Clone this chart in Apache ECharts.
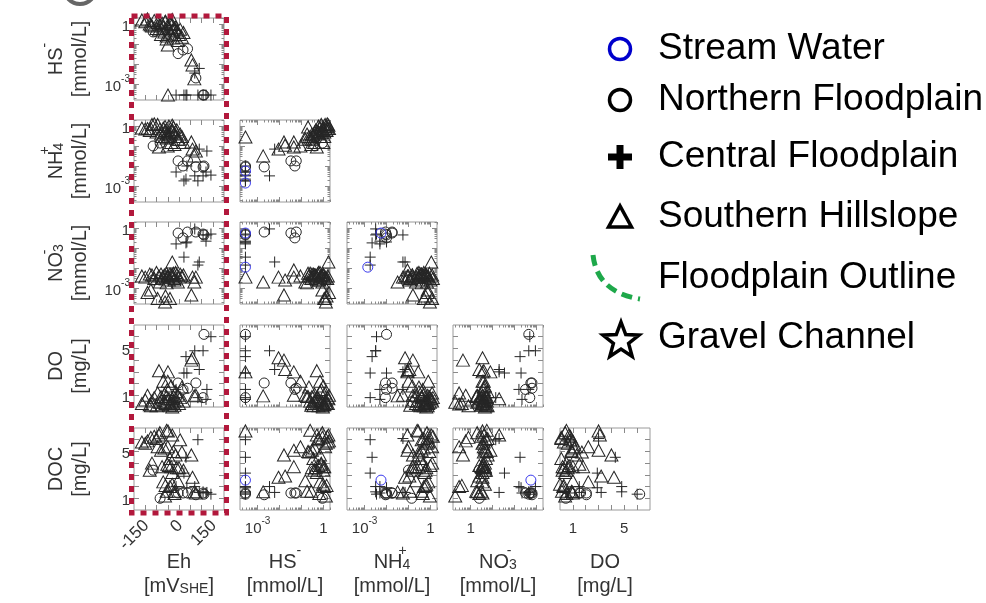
<!DOCTYPE html>
<html><head><meta charset="utf-8">
<script src="https://cdn.jsdelivr.net/npm/echarts@6/dist/echarts.min.js"></script>
<style>html,body{margin:0;padding:0;background:#fff}#c{width:986px;height:603px}</style>
</head><body><div id="c"></div>
<script>
// Each row: [Eh (mV_SHE), HS- (mmol/L), NH4+ (mmol/L), NO3- (mmol/L), DO (mg/L), DOC (mg/L)]
const streamWater = [
  [null, 0.00028, 0.0056, 0.56, null, 2.55],
  [null, 0.00028, 0.0014, 0.011, null, null]
];
const northernFloodplain = [
  [-115, 0.4, 0.1, 0.0025, null, 3.4],
  [-84, 0.9, 0.14, 0.0025, 0.45, 1.0],
  [-4, 0.033, 0.018, 0.56, 2.05, 1.45],
  [18, 0.05, 0.01, 0.32, 1.5, 1.45],
  [38, 0.058, 0.018, 0.63, 1.6, 1.45],
  [111, 0.00028, 0.01, 0.45, 6.2, 1.35],
  [75, 0.002, 0.009, 0.63, 2.05, 1.3],
  [107, 0.00028, 0.0089, 0.5, 0.8, 1.45]
];
const centralFloodplain = [
  [142, 0.00028, 0.0035, 0.5, 6.0, 1.35],
  [107, 0.00028, 0.0032, 0.45, 4.8, 1.55],
  [31, 0.00028, 0.0022, 0.18, 4.3, 4.5],
  [22, 0.00028, 0.0018, 0.035, 2.9, 3.15],
  [-13, 0.00028, 0.005, 0.16, 1.5, 2.0],
  [84, 0.00028, 0.0018, 0.014, 0.8, 6.0],
  [90, 0.006, 0.07, 0.02, 3.2, 1.5],
  [70, 0.0035, 0.0032, 0.9, 4.8, 2.0],
  [124, null, 0.056, 0.45, 1.5, 1.5],
  [35, 0.00028, 0.01, 0.2, 2.9, 1.9],
  [120, 0.00028, 0.005, 0.22, 0.65, 1.45],
  [null, null, 0.056, 0.02, 3.0, 6.1]
];
const southernHillslope = [
  [-49, 0.00028, 0.28, 0.0035, 3.0, 6.75],
  [68, 0.0018, 0.032, 0.002, 0.95, 1.55],
  [60, 0.009, 0.07, 0.0035, 4.2, 2.8],
  [55, 0.016, 0.16, 0.00045, 4.0, 4.7],
  [null, 0.018, 0.11, 0.0025, 3.2, 2.9],
  [null, 0.045, 0.09, 0.008, 3.0, 5.1],
  [null, 0.045, 0.16, 0.0035, 1.0, 3.7],
  [-50, 0.09, 0.1, 0.004, 2.2, 5.4],
  [-165, 1.6, 0.8, 0.004, 0.3, 5.8],
  [-150, 1.3, 0.7, 0.0035, 0.6, 5.7],
  [-140, 1.8, 0.75, 0.0006, 1.0, 5.9],
  [-130, 1.0, 0.6, 0.005, 0.2, 3.4],
  [-120, 0.8, 1.2, 0.0045, 0.5, 4.0],
  [-110, 1.5, 1.3, 0.003, 0.8, 6.3],
  [-100, 0.6, 0.5, 0.006, 0.1, 6.1],
  [-95, 1.2, 1.2, 0.0003, 1.2, 5.4],
  [-89, 0.5, 0.09, 0.004, 3.1, 6.4],
  [-85, 0.9, 0.7, 0.002, 0.4, 6.6],
  [-80, 0.3, 0.4, 0.005, 0.9, 5.1],
  [-75, 1.1, 0.3, 0.0032, 0.2, 3.7],
  [-70, 0.7, 0.8, 0.0035, 2.2, 2.4],
  [-65, 0.4, 0.5, 0.0045, 1.1, 5.3],
  [-60, 1.4, 0.6, 0.0004, 0.3, 2.1],
  [-55, 0.25, 0.25, 0.0055, 0.5, 6.8],
  [-52, 0.8, 0.45, 0.004, 1.5, 3.9],
  [-45, 0.6, 1.0, 0.0025, 0.7, 3.8],
  [-40, 0.35, 0.35, 0.005, 0.1, 4.4],
  [-35, 1.0, 0.15, 0.0045, 1.8, 3.7],
  [-30, 0.5, 0.55, 0.0035, 0.4, 3.2],
  [-25, 0.2, 0.9, 0.0055, 0.9, 5.0],
  [-20, 0.28, 0.12, 0.003, 0.15, 1.6],
  [-15, 0.7, 0.3, 0.006, 1.3, 4.7],
  [-10, 0.45, 0.65, 0.0045, 0.6, 3.6],
  [-5, 0.15, 0.22, 0.002, 1.0, 2.5],
  [0, 0.3, 0.22, 0.0035, 0.3, 3.6],
  [5, 0.55, 0.4, 0.005, 0.8, 6.0],
  [13, 0.22, 0.3, 0.004, 1.7, 4.95],
  [20, 0.38, 0.15, 0.0045, 0.5, 3.4],
  [-125, 0.9, 0.75, 0.0008, 0.1, 6.2],
  [-40, 1.1, 0.5, 0.0003, 0.25, 2.0],
  [-62, 1.3, 0.95, 0.0002, 0.4, 1.2],
  [-30, 1.7, 1.1, 0.02, 0.7, 6.4],
  [-30, 0.95, 0.65, 0.0045, 0.0, 2.2],
  [-20, 0.65, 0.45, 0.0025, 0.5, 1.4],
  [-55, 0.18, 0.4, 0.0018, 0.9, 1.6],
  [75, null, 0.056, 0.0035, 1.0, 1.45]
];
const legendLabels = ['Stream Water', 'Northern Floodplain', 'Central Floodplain', 'Southern Hillslope', 'Floodplain Outline', 'Gravel Channel'];
const fieldNames = [
  '{m|Eh}{h| }\n{m|[mV}{sub|SHE}{m|]}',
  '{m|HS}{sp|-}{h| }\n{m|[mmol/L]}',
  '{m|NH}{z|+}{sub|4}{h| }\n{m|[mmol/L]}',
  '{m|NO}{z|-}{sub|3}{h| }\n{m|[mmol/L]}',
  '{m|DO}{h| }\n{m|[mg/L]}',
  '{m|DOC}{h| }\n{m|[mg/L]}'
];
const ehTickLabels = [-150, 0, 150];
const ehTicks = [-150, -100, -50, 0, 50, 100, 150];
const logTickLabels = [0.001, 1];
const logMajorTicks = [0.001, 0.01, 0.1, 1];
const logDecades = [0.0001, 0.001, 0.01, 0.1, 1];
const linTickLabels = [1, 5];
const linTicks = [1, 2, 3, 4, 5, 6];

const FF = '"Liberation Sans", Arial, sans-serif';
const TXT = '#333';
const fieldIsLog = [false, true, true, true, false, false];
const ranges = [[-200, 200], [0.000158, 2.0], [0.000158, 2.0], [0.000158, 2.0], [0, 7], [0, 7]];
const logMinorTicks = [];
logDecades.forEach(d => { for (let k = 2; k <= 9; k++) logMinorTicks.push(+(d * k).toPrecision(3)); });
const majorTicks = [ehTicks, logMajorTicks, logMajorTicks, logMajorTicks, linTicks, linTicks];

const lefts = [134, 240, 347, 453, 560];
const tops = [18, 120, 222, 325, 428];
const PW = 90, PH = 82;

const tickRich = {
  b: {fontFamily: FF, fontSize: 15, lineHeight: 20, verticalAlign: 'bottom', color: TXT},
  e: {fontFamily: FF, fontSize: 17, lineHeight: 20, verticalAlign: 'bottom', color: TXT},
  t: {fontFamily: FF, fontSize: 10, lineHeight: 12, verticalAlign: 'top', color: TXT}
};
const nameRich = {
  m: {fontFamily: FF, fontSize: 20, lineHeight: 24, verticalAlign: 'bottom', color: TXT},
  h: {fontFamily: FF, fontSize: 20, lineHeight: 28, width: 0, color: TXT},
  sp: {fontFamily: FF, fontSize: 14, lineHeight: 26, verticalAlign: 'top', color: TXT},
  z: {fontFamily: FF, fontSize: 14, lineHeight: 14, verticalAlign: 'top', width: 0, color: TXT},
  sub: {fontFamily: FF, fontSize: 14, lineHeight: 14, verticalAlign: 'bottom', color: TXT}
};
function logFmt(v) { return v > 0.5 ? '{b|1}' : '{b|10}{t|-3}'; }
function labelCfg(field, isX) {
  const base = {show: true, rich: tickRich, fontFamily: FF, fontSize: 15, color: TXT, margin: isX ? 6 : 4, hideOverlap: false};
  if (field === 0) return Object.assign(base, {customValues: ehTickLabels, rotate: 45, margin: 12, formatter: v => '{e|' + v + '}'});
  if (fieldIsLog[field]) {
    if (isX && field === 3) return Object.assign(base, {customValues: [0.001], formatter: () => '{b|1}'});
    return Object.assign(base, {customValues: logTickLabels, formatter: logFmt});
  }
  return Object.assign(base, {customValues: linTickLabels, formatter: v => '{b|' + v + '}'});
}
function makeAxis(gi, field, pos, major, lab, name, isX) {
  const a = {
    type: fieldIsLog[field] ? 'log' : 'value', gridIndex: gi, position: pos,
    min: ranges[field][0], max: ranges[field][1],
    axisLine: {show: false, onZero: false}, splitLine: {show: false}, splitArea: {show: false},
    axisTick: {show: true, inside: true, length: major ? 5 : 2.5,
      customValues: major ? majorTicks[field] : logMinorTicks, lineStyle: {color: '#8a8a8a', width: 1}},
    axisLabel: lab || {show: false},
    silent: true
  };
  if (name) {
    a.name = name; a.nameLocation = 'middle'; a.nameGap = isX ? 34 : 44; a.nameMoveOverlap = false;
    a.nameTextStyle = {fontFamily: FF, fontSize: 20, color: TXT, lineHeight: 24, rich: nameRich};
  }
  return a;
}
const groups = [
  {data: southernHillslope, symbol: 'triangle', size: [13, 12], color: '#262626'},
  {data: centralFloodplain, symbol: 'path://M5 0L5 10M0 5L10 5', size: 11, color: '#262626'},
  {data: northernFloodplain, symbol: 'circle', size: 10, color: '#262626'},
  {data: streamWater, symbol: 'circle', size: 10, color: '#3a3aee'}
];
const grids = [], xAxes = [], yAxes = [], series = [];
for (let r = 0; r < 5; r++) {
  for (let c = 0; c <= r; c++) {
    const gi = grids.length;
    grids.push({left: lefts[c], top: tops[r], width: PW, height: PH, show: true, borderColor: '#9a9a9a', borderWidth: 1, backgroundColor: 'transparent', containLabel: false});
    const xf = c, yf = r + 1;
    const xi = xAxes.length, yi = yAxes.length;
    xAxes.push(makeAxis(gi, xf, 'bottom', true, r === 4 ? labelCfg(xf, true) : null, r === 4 ? fieldNames[xf] : null, true));
    xAxes.push(makeAxis(gi, xf, 'top', true, null, null, true));
    if (fieldIsLog[xf]) {
      xAxes.push(makeAxis(gi, xf, 'bottom', false, null, null, true));
      xAxes.push(makeAxis(gi, xf, 'top', false, null, null, true));
    }
    yAxes.push(makeAxis(gi, yf, 'left', true, c === 0 ? labelCfg(yf, false) : null, c === 0 ? fieldNames[yf] : null, false));
    yAxes.push(makeAxis(gi, yf, 'right', true, null, null, false));
    if (fieldIsLog[yf]) {
      yAxes.push(makeAxis(gi, yf, 'left', false, null, null, false));
      yAxes.push(makeAxis(gi, yf, 'right', false, null, null, false));
    }
    groups.forEach((g, k) => {
      const pts = g.data.filter(row => row[xf] != null && row[yf] != null).map(row => [row[xf], row[yf]]);
      if (!pts.length) return;
      series.push({
        type: 'scatter', xAxisIndex: xi, yAxisIndex: yi, data: pts,
        symbol: g.symbol, symbolSize: g.size, clip: false, silent: true, z: 2 + k,
        itemStyle: {color: 'rgba(0,0,0,0)', borderColor: g.color, borderWidth: 1, opacity: 1},
        emphasis: {disabled: true}
      });
    });
  }
}
const legendY = [49, 100, 157, 217, 278, 338];
const starPts = [];
for (let i = 0; i < 10; i++) {
  const a = -Math.PI / 2 + i * Math.PI / 5, rr = i % 2 === 0 ? 19 : 8;
  starPts.push([621 + rr * Math.cos(a), 341 + rr * Math.sin(a)]);
}
const graphic = [
  {type: 'arc', shape: {cx: 80, cy: -12, r: 16, startAngle: 0, endAngle: Math.PI}, style: {stroke: '#666', lineWidth: 4, fill: 'none'}, z: 50},
  {type: 'rect', shape: {x: 131.5, y: 16, width: 95, height: 497}, style: {fill: 'none', stroke: '#b2183c', lineWidth: 5, lineDash: [6, 6]}, z: 100},
  {type: 'circle', shape: {cx: 620, cy: legendY[0], r: 10.5}, style: {fill: 'none', stroke: '#0000cc', lineWidth: 3.5}, z: 50},
  {type: 'circle', shape: {cx: 620, cy: legendY[1], r: 10.5}, style: {fill: 'none', stroke: '#000', lineWidth: 3.5}, z: 50},
  {type: 'rect', shape: {x: 608, y: legendY[2] - 3.5, width: 24, height: 7}, style: {fill: '#000'}, z: 50},
  {type: 'rect', shape: {x: 616.5, y: legendY[2] - 12, width: 7, height: 24}, style: {fill: '#000'}, z: 50},
  {type: 'polygon', shape: {points: [[620, legendY[3] - 11], [608.5, legendY[3] + 10], [631.5, legendY[3] + 10]]}, style: {fill: 'none', stroke: '#000', lineWidth: 3.5}, z: 50},
  {type: 'bezierCurve', shape: {x1: 593, y1: 255, x2: 640, y2: 299, cpx1: 597, cpy1: 292}, style: {stroke: '#1ea84a', lineWidth: 5, lineDash: [11, 6], fill: 'none'}, z: 50},
  {type: 'polygon', shape: {points: starPts}, style: {fill: '#fff', stroke: '#000', lineWidth: 3.5}, z: 50}
];
legendLabels.forEach((t, i) => {
  graphic.push({type: 'text', x: 658, y: legendY[i], style: {text: t, font: '37px "Liberation Sans", Arial, sans-serif', fill: '#000', verticalAlign: 'middle', align: 'left'}, z: 50});
});
const chart = echarts.init(document.getElementById('c'), null, {renderer: 'canvas'});
chart.setOption({
  animation: false,
  backgroundColor: '#fff',
  grid: grids, xAxis: xAxes, yAxis: yAxes, series: series, graphic: graphic
});
</script></body></html>
